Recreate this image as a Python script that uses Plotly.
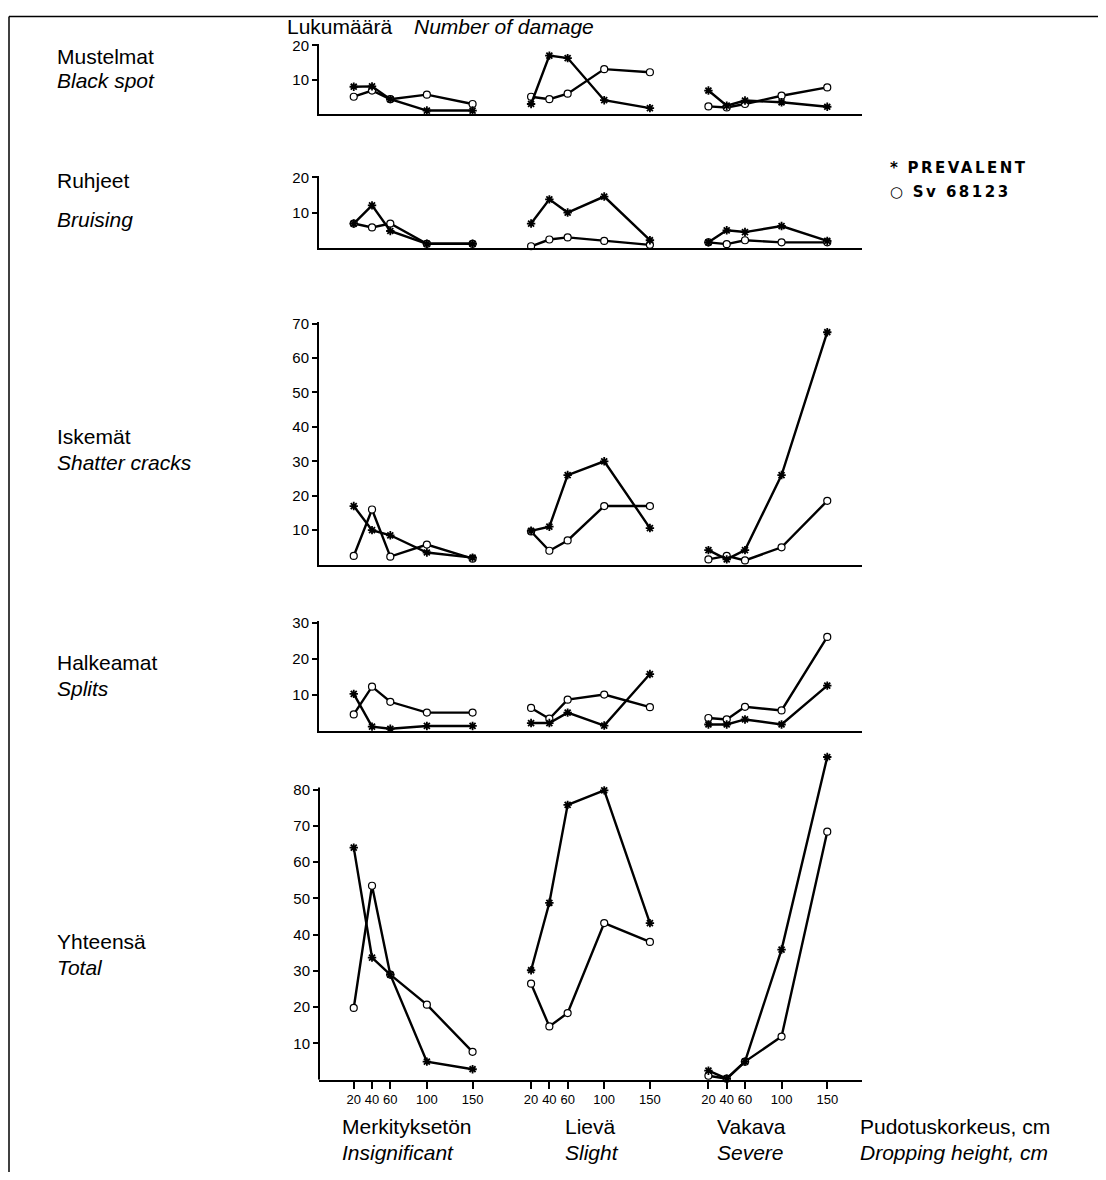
import plotly.graph_objects as go

# ---------------- data ----------------
heights = [20, 40, 60, 100, 150]                      # dropping height, cm
classes = ["Merkityksetön", "Lievä", "Vakava"]        # damage class groups
classes_en = ["Insignificant", "Slight", "Severe"]
GROUP_GAP = 194                                        # x offset between groups (axis units)

panel_names = ["Mustelmat", "Ruhjeet", "Iskemät", "Halkeamat", "Yhteensä"]
panel_names_en = ["Black spot", "Bruising", "Shatter cracks", "Splits", "Total"]

# values: 5 heights for Insignificant, Slight, Severe
black_spot_prevalent = [8.0, 8.1, 4.4, 1.1, 1.1,   3.0, 17.0, 16.3, 4.1, 1.8,   6.9, 2.5, 4.0, 3.5, 2.2]
black_spot_sv        = [5.1, 6.9, 4.4, 5.7, 3.0,   5.1, 4.4, 6.0, 13.1, 12.2,   2.3, 2.0, 3.0, 5.4, 7.8]

bruising_prevalent   = [7.0, 12.1, 4.9, 1.3, 1.3,  7.0, 13.8, 10.1, 14.6, 2.3,  1.7, 5.1, 4.6, 6.3, 2.1]
bruising_sv          = [7.0, 5.9, 7.0, 1.3, 1.3,   0.6, 2.5, 3.1, 2.1, 1.0,     1.7, 1.2, 2.3, 1.7, 1.7]

shatter_prevalent    = [17.0, 10.0, 8.5, 3.5, 2.0, 9.8, 11.0, 26.0, 30.0, 10.6, 4.2, 1.5, 4.2, 26.0, 67.5]
shatter_sv           = [2.5, 16.0, 2.3, 5.8, 1.7,  9.6, 4.0, 7.0, 17.0, 17.0,   1.5, 2.5, 1.2, 5.0, 18.5]

splits_prevalent     = [10.2, 1.1, 0.5, 1.3, 1.3,  2.1, 2.1, 5.0, 1.4, 15.7,    1.7, 1.7, 3.1, 1.7, 12.5]
splits_sv            = [4.5, 12.2, 8.0, 5.0, 5.0,  6.3, 3.3, 8.6, 10.0, 6.5,    3.5, 3.1, 6.6, 5.6, 26.0]

total_prevalent      = [64.0, 33.7, 29.0, 5.0, 2.9,  30.2, 48.8, 75.8, 79.8, 43.2,  2.5, 0.3, 5.0, 35.9, 89.0]
total_sv             = [19.8, 53.5, 29.0, 20.7, 7.7, 26.5, 14.7, 18.4, 43.2, 38.0,  1.1, 0.3, 5.0, 11.9, 68.4]

series_names = ["PREVALENT", "Sv 68123"]

panels = [
    (black_spot_prevalent, black_spot_sv, [10, 20], 20.3),
    (bruising_prevalent, bruising_sv, [10, 20], 20.3),
    (shatter_prevalent, shatter_sv, [10, 20, 30, 40, 50, 60, 70], 70.4),
    (splits_prevalent, splits_sv, [10, 20, 30], 30.4),
    (total_prevalent, total_sv, [10, 20, 30, 40, 50, 60, 70, 80], 90.0),
]

# ---------------- layout helpers (page pixels -> paper) ----------------
W, H = 1090, 1164
OFF_X = 8
TOP_Y, H_EFF = 16.7, 1155.5     # measured placement of the figure on the page
def px(p):
    return (p - OFF_X) / W
def py(p):
    return 1 - (p - TOP_Y) / H_EFF

# panel pixel geometry: (baseline px, px per unit)
geom = [(115, 3.45), (249, 3.55), (565, 3.44), (731, 3.60), (1080, 3.625)]
X_RANGE = [-18, 576]
x_dom = [px(319), px(862)]

def group_xy(vals):
    xs, ys = [], []
    for g in range(len(classes)):
        for j, h in enumerate(heights):
            xs.append(h + GROUP_GAP * g)
            ys.append(vals[g * len(heights) + j])
        xs.append(None)
        ys.append(None)
    return xs, ys

fig = go.Figure()
LINE_W = 2.4
for i, (prev, sv, tv, ymax) in enumerate(panels, start=1):
    xa = "x" if i == 1 else f"x{i}"
    ya = "y" if i == 1 else f"y{i}"
    xs, ys = group_xy(sv)
    fig.add_trace(go.Scatter(
        x=xs, y=ys, xaxis=xa, yaxis=ya, mode="lines+markers", name=series_names[1],
        line=dict(color="black", width=LINE_W),
        marker=dict(symbol="circle", size=7, color="white", line=dict(color="black", width=1.2)),
        showlegend=False, cliponaxis=False))
    xs, ys = group_xy(prev)
    fig.add_trace(go.Scatter(
        x=xs, y=ys, xaxis=xa, yaxis=ya, mode="lines+markers", name=series_names[0],
        line=dict(color="black", width=LINE_W),
        marker=dict(symbol="asterisk", size=7, color="black", line=dict(color="black", width=1.8)),
        showlegend=False, cliponaxis=False))

    base, ppu = geom[i - 1]
    top = base - ymax * ppu
    key = "" if i == 1 else str(i)
    last = (i == len(panels))
    xaxis = dict(domain=x_dom, range=X_RANGE, anchor=ya, showline=True, linecolor="black",
                 linewidth=2, showgrid=False, zeroline=False, fixedrange=True)
    if last:
        tickx, tickt = [], []
        for g in range(len(classes)):
            for h in heights:
                tickx.append(h + GROUP_GAP * g)
                tickt.append(str(h))
        xaxis.update(tickmode="array", tickvals=tickx, ticktext=tickt, ticks="outside",
                     ticklen=7, tickwidth=1.5, tickcolor="black",
                     tickfont=dict(family="Liberation Sans Narrow, Liberation Sans, Arial", size=13, color="black"))
    else:
        xaxis.update(showticklabels=False, ticks="")
    yaxis = dict(domain=[py(base), py(top)], range=[0, ymax], anchor=xa,
                 showline=not last, linecolor="black", linewidth=2,
                 showgrid=False, zeroline=False, tickmode="array", tickvals=tv,
                 ticktext=[str(v) for v in tv], ticks="outside", ticklen=5, tickwidth=1.5,
                 tickcolor="black", fixedrange=True,
                 tickfont=dict(family="Liberation Sans, Arial", size=15, color="black"))
    fig.layout["xaxis" + key] = xaxis
    fig.layout["yaxis" + key] = yaxis

shapes = [
    # y-axis line of the Total panel (stops at the 80 tick, data continue above)
    dict(type="line", xref="x5 domain", yref="y5", x0=0, x1=0, y0=0, y1=80.6,
         line=dict(color="black", width=2)),
    # page frame
    dict(type="line", xref="paper", yref="paper", x0=px(9), x1=1, y0=0.9995, y1=0.9995,
         line=dict(color="black", width=1.5)),
    dict(type="line", xref="paper", yref="paper", x0=px(9), x1=px(9), y0=0, y1=0.9995,
         line=dict(color="black", width=1.5)),
]

FONT = "Liberation Sans, Arial"
ann = []
def txt(x, y, s, size=21, anchor="left"):
    ann.append(dict(x=px(x), y=py(y), xref="paper", yref="paper", text=s, showarrow=False,
                    xanchor=anchor, yanchor="middle",
                    font=dict(family=FONT, size=size, color="black")))

txt(285, 27, "Lukumäärä")
txt(412, 27, "<i>Number of damage</i>")

label_y = [(57, 81), (181, 220), (437, 463), (663, 689), (942, 968)]
for (fi, en), (y1, y2) in zip(zip(panel_names, panel_names_en), label_y):
    txt(55, y1, fi)
    txt(55, y2, f"<i>{en}</i>")

group_label_x = [340, 563, 715]
for (fi, en), x in zip(zip(classes, classes_en), group_label_x):
    txt(x, 1127, fi)
    txt(x, 1153, f"<i>{en}</i>")
txt(858, 1127, "Pudotuskorkeus, cm")
txt(858, 1153, "<i>Dropping height, cm</i>")

# legend
SP = '<span style="letter-spacing:2.5px">'
ann.append(dict(x=px(888), y=py(169), xref="paper", yref="paper", showarrow=False,
                xanchor="left", yanchor="middle",
                text="<b>*</b>&nbsp;&nbsp;" + SP + "<b>" + series_names[0] + "</b></span>",
                font=dict(family="DejaVu Sans", size=15, color="black")))
ann.append(dict(x=px(888), y=py(193), xref="paper", yref="paper", showarrow=False,
                xanchor="left", yanchor="middle",
                text="○&nbsp;&nbsp;" + SP + "<b>" + series_names[1] + "</b></span>",
                font=dict(family="DejaVu Sans", size=15, color="black")))

fig.update_layout(
    width=W, height=H, autosize=False,
    margin=dict(l=0, r=0, t=0, b=0),
    paper_bgcolor="white", plot_bgcolor="white",
    showlegend=False, shapes=shapes, annotations=ann,
)

fig.write_html("out.html")
